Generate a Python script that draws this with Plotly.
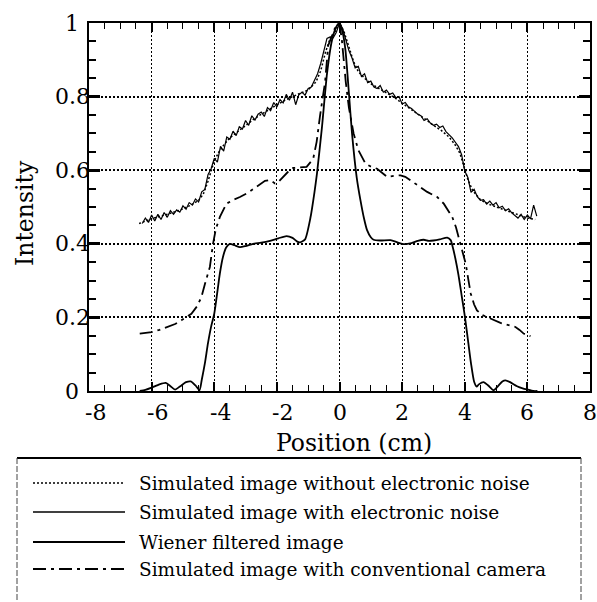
import plotly.graph_objects as go

# ---------------- data ----------------
noisy_x = [-6.3, -6.2, -6.1, -6.0, -5.9, -5.8, -5.7, -5.6, -5.5, -5.4, -5.3, -5.2, -5.1, -5.0,
           -4.9, -4.8, -4.7, -4.6, -4.5, -4.4, -4.3, -4.2, -4.1, -4.0, -3.9, -3.8, -3.7, -3.6,
           -3.5, -3.4, -3.3, -3.2, -3.1, -3.0, -2.9, -2.8, -2.7, -2.6, -2.5, -2.4, -2.3, -2.2,
           -2.1, -2.0, -1.9, -1.8, -1.7, -1.6, -1.5, -1.4, -1.3, -1.2, -1.1, -1.0, -0.9, -0.8,
           -0.7, -0.6, -0.5, -0.4, -0.3, -0.2, -0.1, 0.0, 0.1, 0.2, 0.3, 0.4, 0.5, 0.6, 0.7,
           0.8, 0.9, 1.0, 1.1, 1.2, 1.3, 1.4, 1.5, 1.6, 1.7, 1.8, 1.9, 2.0, 2.1, 2.2, 2.3, 2.4,
           2.5, 2.6, 2.7, 2.8, 2.9, 3.0, 3.1, 3.2, 3.3, 3.4, 3.5, 3.6, 3.7, 3.8, 3.9, 4.0, 4.1,
           4.2, 4.3, 4.4, 4.5, 4.6, 4.7, 4.8, 4.9, 5.0, 5.1, 5.2, 5.3, 5.4, 5.5, 5.6, 5.7, 5.8,
           5.9, 6.0, 6.1, 6.2, 6.3]
noisy_y = [0.455, 0.470, 0.458, 0.478, 0.462, 0.480, 0.466, 0.485, 0.472, 0.490, 0.480, 0.492,
           0.486, 0.503, 0.494, 0.512, 0.505, 0.522, 0.514, 0.541, 0.548, 0.588, 0.604, 0.632,
           0.622, 0.665, 0.652, 0.690, 0.684, 0.706, 0.694, 0.718, 0.712, 0.735, 0.722, 0.748,
           0.736, 0.752, 0.758, 0.746, 0.770, 0.762, 0.784, 0.772, 0.792, 0.783, 0.806, 0.790,
           0.812, 0.778, 0.805, 0.812, 0.804, 0.822, 0.826, 0.845, 0.862, 0.890, 0.925, 0.958,
           0.962, 0.960, 0.975, 1.000, 0.985, 0.955, 0.925, 0.905, 0.878, 0.882, 0.855, 0.862,
           0.838, 0.842, 0.826, 0.822, 0.830, 0.812, 0.818, 0.806, 0.810, 0.797, 0.800, 0.780,
           0.784, 0.772, 0.768, 0.760, 0.752, 0.748, 0.735, 0.740, 0.728, 0.722, 0.725, 0.716,
           0.720, 0.705, 0.696, 0.688, 0.676, 0.664, 0.642, 0.598, 0.580, 0.540, 0.548, 0.528,
           0.518, 0.520, 0.508, 0.516, 0.505, 0.512, 0.498, 0.502, 0.490, 0.495, 0.484, 0.478,
           0.470, 0.480, 0.466, 0.478, 0.468, 0.505, 0.475]

clean_x = [-6.4, -6.25, -6.0, -5.75, -5.5, -5.25, -5.0, -4.75, -4.5, -4.35, -4.2, -4.1, -4.0,
           -3.85, -3.7, -3.5, -3.25, -3.0, -2.75, -2.5, -2.25, -2.0, -1.75, -1.5, -1.25, -1.0,
           -0.75, -0.6, -0.45, -0.3, -0.15, 0.0, 0.15, 0.3, 0.45, 0.6, 0.8, 1.0, 1.25, 1.5,
           1.75, 2.0, 2.25, 2.5, 2.75, 3.0, 3.25, 3.5, 3.7, 3.85, 4.0, 4.1, 4.25, 4.5, 4.75,
           5.0, 5.25, 5.5, 5.75, 6.0, 6.25]
clean_y = [0.455, 0.460, 0.468, 0.474, 0.480, 0.487, 0.495, 0.505, 0.518, 0.535, 0.570, 0.600,
           0.625, 0.650, 0.668, 0.688, 0.705, 0.722, 0.738, 0.752, 0.765, 0.778, 0.790, 0.800,
           0.808, 0.818, 0.840, 0.870, 0.920, 0.958, 0.975, 1.000, 0.975, 0.935, 0.895, 0.868,
           0.850, 0.835, 0.822, 0.810, 0.798, 0.782, 0.768, 0.752, 0.738, 0.722, 0.708, 0.690,
           0.668, 0.645, 0.605, 0.575, 0.545, 0.520, 0.508, 0.500, 0.492, 0.485, 0.477, 0.470,
           0.466]

wiener_x = [-6.38, -6.2, -6.0, -5.75, -5.55, -5.4, -5.25, -5.1, -4.9, -4.75, -4.6, -4.47, -4.4,
            -4.3, -4.2, -4.1, -4.0, -3.9, -3.82, -3.72, -3.62, -3.5, -3.35, -3.18, -3.0, -2.76,
            -2.5, -2.22, -1.95, -1.69, -1.5, -1.35, -1.26, -1.1, -0.93, -0.8, -0.72, -0.56, -0.4,
            -0.24, -0.1, 0.0, 0.1, 0.19, 0.3, 0.4, 0.55, 0.67, 0.78, 0.88, 1.0, 1.09, 1.3, 1.63,
            1.85, 2.05, 2.3, 2.5, 2.69, 2.85, 3.0, 3.2, 3.44, 3.55, 3.62, 3.7, 3.8, 3.9, 4.0,
            4.1, 4.2, 4.3, 4.38, 4.45, 4.6, 4.75, 4.92, 5.05, 5.2, 5.3, 5.45, 5.67, 5.85, 5.99,
            6.2, 6.32]
wiener_y = [0.0, 0.003, 0.009, 0.018, 0.022, 0.013, 0.004, 0.012, 0.024, 0.026, 0.015, 0.002,
            0.03, 0.075, 0.13, 0.175, 0.21, 0.27, 0.32, 0.365, 0.39, 0.400, 0.396, 0.391, 0.394,
            0.400, 0.403, 0.408, 0.415, 0.421, 0.416, 0.406, 0.404, 0.412, 0.47, 0.54, 0.591,
            0.717, 0.862, 0.953, 0.99, 1.0, 0.975, 0.926, 0.81, 0.70, 0.58, 0.518, 0.47, 0.437,
            0.418, 0.411, 0.409, 0.41, 0.404, 0.399, 0.402, 0.408, 0.411, 0.408, 0.409, 0.412,
            0.417, 0.41, 0.39, 0.36, 0.315, 0.26, 0.205, 0.14, 0.075, 0.025, 0.012, 0.018, 0.024,
            0.015, 0.002, 0.012, 0.026, 0.029, 0.024, 0.013, 0.007, 0.004, 0.0, 0.0]

conv_x = [-6.38, -6.0, -5.75, -5.48, -5.25, -5.05, -4.9, -4.73, -4.55, -4.41, -4.3, -4.2, -4.14,
          -4.04, -3.95, -3.82, -3.61, -3.4, -3.18, -2.9, -2.65, -2.38, -2.22, -2.06, -1.95,
          -1.85, -1.65, -1.48, -1.25, -1.05, -0.84, -0.73, -0.62, -0.46, -0.36, -0.15, 0.0,
          0.08, 0.2, 0.3, 0.45, 0.6, 0.83, 1.0, 1.2, 1.52, 1.75, 1.95, 2.1, 2.25, 2.43, 2.6,
          2.8, 3.12, 3.33, 3.5, 3.6, 3.72, 3.81, 3.92, 4.03, 4.12, 4.19, 4.3, 4.39, 4.55, 4.71,
          4.9, 5.14, 5.4, 5.62, 5.75, 5.88, 6.1]
conv_y = [0.156, 0.160, 0.166, 0.174, 0.182, 0.192, 0.200, 0.21, 0.23, 0.255, 0.29, 0.32, 0.337,
          0.40, 0.44, 0.473, 0.509, 0.519, 0.527, 0.54, 0.554, 0.571, 0.573, 0.564, 0.568,
          0.577, 0.595, 0.606, 0.607, 0.609, 0.631, 0.677, 0.749, 0.84, 0.939, 0.985, 1.0,
          0.95, 0.84, 0.77, 0.70, 0.655, 0.618, 0.61, 0.604, 0.582, 0.585, 0.586, 0.582, 0.574,
          0.564, 0.553, 0.541, 0.527, 0.509, 0.488, 0.473, 0.445, 0.418, 0.38, 0.346, 0.30,
          0.265, 0.235, 0.219, 0.207, 0.201, 0.193, 0.185, 0.179, 0.174, 0.166, 0.156, 0.149]

x_tick_vals = [-8, -6, -4, -2, 0, 2, 4, 6, 8]
x_tick_text = ["-8", "-6", "-4", "-2", "0", "2", "4", "6", "8"]
y_tick_vals = [0, 0.2, 0.4, 0.6, 0.8, 1]
y_tick_text = ["0", "0.2", "0.4", "0.6", "0.8", "1"]

legend_names = ["Simulated image without electronic noise",
                "Simulated image with electronic noise",
                "Wiener filtered image",
                "Simulated image with conventional camera"]

# ---------------- figure ----------------
W, H = 597, 602
L, R, T, B = 89, 7, 23, 211
PW, PH = W - L - R, H - T - B

def px2x(px):
    return (px - L) / PW

def py2y(py):
    return (H - B - py) / PH

SERIF = "DejaVu Serif"
DASHDOT = "13px,5px,3px,5px"

fig = go.Figure()
fig.add_trace(go.Scatter(x=clean_x, y=clean_y, mode="lines", name=legend_names[0],
                         line=dict(color="black", width=1.5, dash="2px,2px")))
fig.add_trace(go.Scatter(x=noisy_x, y=noisy_y, mode="lines", name=legend_names[1],
                         line=dict(color="black", width=1.2)))
fig.add_trace(go.Scatter(x=wiener_x, y=wiener_y, mode="lines", name=legend_names[2],
                         line=dict(color="black", width=1.8, shape="spline", smoothing=0.6)))
fig.add_trace(go.Scatter(x=conv_x, y=conv_y, mode="lines", name=legend_names[3],
                         line=dict(color="black", width=1.8, dash=DASHDOT)))

fig.update_xaxes(range=[-8, 8], showline=True, linewidth=2, linecolor="black", mirror="ticks",
                 ticks="inside", tickmode="array", tickvals=x_tick_vals, ticklen=9, tickwidth=1.5,
                 tickcolor="black", showticklabels=False, showgrid=True, gridcolor="black",
                 gridwidth=1.2, griddash="2px,2px", zeroline=False,
                 minor=dict(dtick=0.5, tick0=0, ticks="inside", ticklen=6, tickwidth=1.2,
                            tickcolor="black", showgrid=False))
fig.update_yaxes(range=[0, 1], showline=True, linewidth=2, linecolor="black", mirror="ticks",
                 ticks="inside", tickmode="array", tickvals=y_tick_vals, ticklen=11, tickwidth=2.5,
                 tickcolor="black", showticklabels=False, showgrid=True, gridcolor="black",
                 gridwidth=1.5, griddash="2px,2px", zeroline=False,
                 minor=dict(dtick=0.05, tick0=0, ticks="inside", ticklen=7, tickwidth=1.5,
                            tickcolor="black", showgrid=False))

ann = []
for v, t in zip(x_tick_vals, x_tick_text):
    ann.append(dict(x=v, y=py2y(412), xref="x", yref="paper", text=t, showarrow=False,
                    xanchor="center", yanchor="middle", xshift=6 if v < 0 else 0,
                    font=dict(family=SERIF, size=22, color="black")))
for v, t in zip(y_tick_vals, y_tick_text):
    ann.append(dict(x=px2x(72), y=v, xref="paper", yref="y", text=t, showarrow=False,
                    xanchor="center", yanchor="middle",
                    font=dict(family=SERIF, size=22, color="black")))
ann.append(dict(x=px2x(354), y=py2y(443), xref="paper", yref="paper", text="Position (cm)",
                showarrow=False, xanchor="center", yanchor="middle",
                font=dict(family=SERIF, size=23.5, color="black")))
ann.append(dict(x=px2x(25), y=py2y(213), xref="paper", yref="paper", text="Intensity",
                showarrow=False, xanchor="center", yanchor="middle", textangle=-90,
                font=dict(family=SERIF, size=23.5, color="black")))

# legend box (drawn)
shapes = []
box_l, box_r, box_t, box_b = px2x(17), px2x(581), py2y(458), py2y(640)
shapes.append(dict(type="line", xref="paper", yref="paper", x0=box_l, x1=box_r, y0=box_t, y1=box_t,
                   line=dict(color="black", width=2)))
shapes.append(dict(type="line", xref="paper", yref="paper", x0=box_l, x1=box_l, y0=box_t, y1=box_b,
                   line=dict(color="#444", width=1, dash="6px,2px")))
shapes.append(dict(type="line", xref="paper", yref="paper", x0=box_r, x1=box_r, y0=box_t, y1=box_b,
                   line=dict(color="#444", width=1, dash="6px,2px")))
row_py = [483, 512, 542, 569]
row_styles = [dict(color="black", width=1.5, dash="2px,2px"),
              dict(color="black", width=1.5),
              dict(color="black", width=1.8),
              dict(color="black", width=1.8, dash=DASHDOT)]
for name, rp, st in zip(legend_names, row_py, row_styles):
    shapes.append(dict(type="line", xref="paper", yref="paper", x0=px2x(33), x1=px2x(125),
                       y0=py2y(rp), y1=py2y(rp), line=st))
    ann.append(dict(x=px2x(137), y=py2y(rp), xref="paper", yref="paper", text=name,
                    showarrow=False, xanchor="left", yanchor="middle",
                    font=dict(family=SERIF, size=18.5, color="black")))

fig.update_layout(width=W, height=H, margin=dict(l=L, r=R, t=T, b=B, pad=0, autoexpand=False),
                  paper_bgcolor="white", plot_bgcolor="white", showlegend=False,
                  annotations=ann, shapes=shapes)

fig.write_html("out.html")
